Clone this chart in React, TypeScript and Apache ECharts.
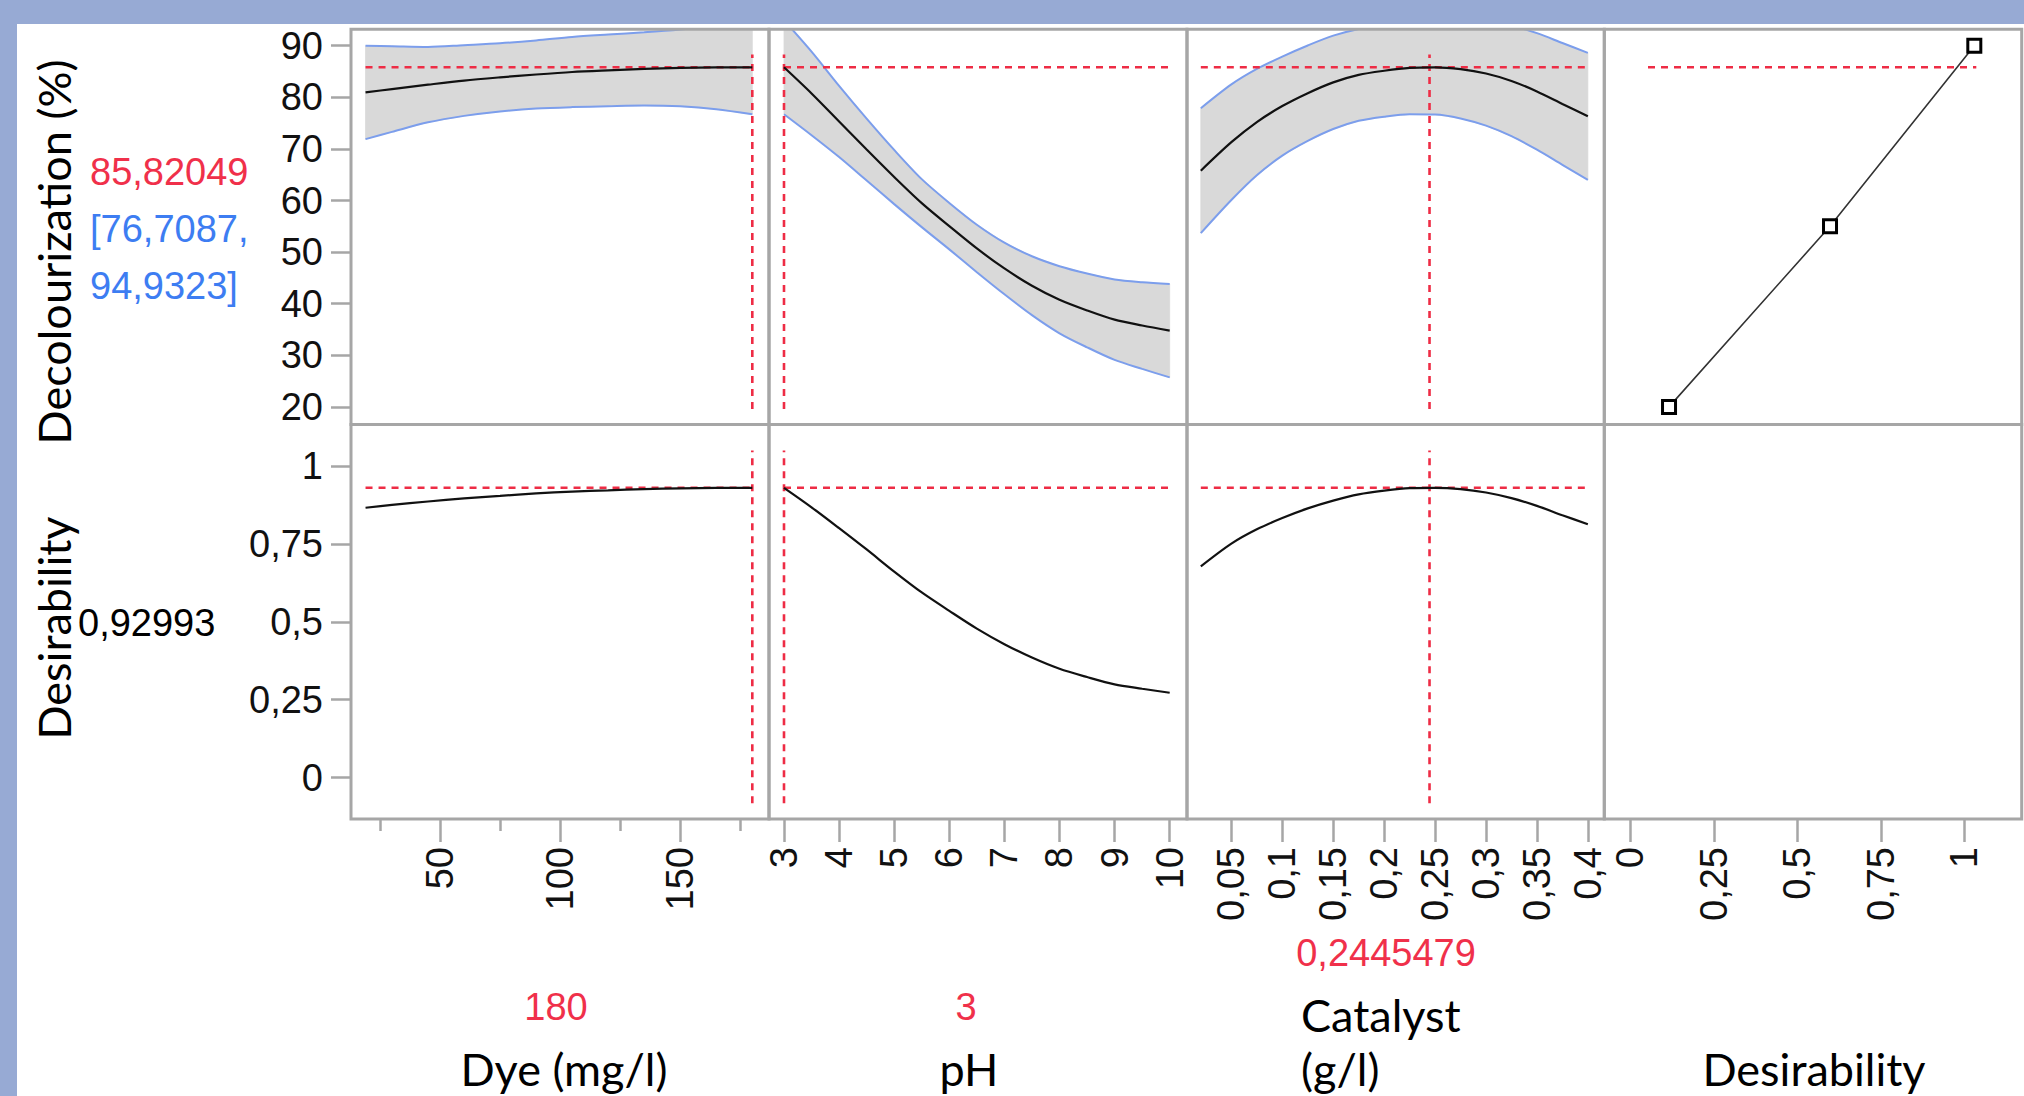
import React, { useEffect, useRef } from "react";
import * as echarts from "echarts";

// ---------------- data ----------------
const dyeValues = [19, 30, 45, 60, 75, 90, 105, 120, 135, 150, 165, 180];
const dyePred = [80.95, 81.6, 82.45, 83.25, 83.87, 84.42, 84.9, 85.22, 85.5, 85.7, 85.8, 85.82];
const dyeUpper = [90.01, 89.9, 89.75, 90.1, 90.47, 91.02, 91.7, 92.17, 92.6, 93.15, 93.9, 94.93];
const dyeLower = [71.89, 73.3, 75.15, 76.4, 77.27, 77.82, 78.1, 78.27, 78.4, 78.25, 77.7, 76.71];
const dyeDesirability = [0.866, 0.875, 0.886, 0.896, 0.904, 0.912, 0.918, 0.922, 0.926, 0.928, 0.9297, 0.93];

const phValues = [3, 3.5, 4, 4.5, 5, 5.5, 6, 6.5, 7, 7.5, 8, 8.5, 9, 9.5, 10];
const phPred = [85.82, 80.75, 75.32, 69.87, 64.55, 59.49, 55.03, 50.71, 46.83, 43.49, 40.77, 38.7, 36.91, 35.77, 34.77];
const phUpper = [94.93, 88.85, 82.22, 75.87, 69.8, 64.14, 59.53, 55.31, 51.83, 49.19, 47.27, 45.85, 44.71, 44.17, 43.82];
const phLower = [76.71, 72.65, 68.42, 63.87, 59.3, 54.84, 50.53, 46.11, 41.83, 37.79, 34.27, 31.55, 29.11, 27.37, 25.72];
const phDesirability = [0.93, 0.8675, 0.8006, 0.732, 0.661, 0.594, 0.535, 0.478, 0.428, 0.385, 0.349, 0.3225, 0.299, 0.285, 0.272];

const catalystValues = [0.02, 0.05, 0.075, 0.1, 0.125, 0.15, 0.175, 0.2, 0.225, 0.25, 0.275, 0.3, 0.325, 0.35, 0.375, 0.4];
const catalystPred = [65.78, 71.3, 75.2, 78.3, 80.8, 82.9, 84.35, 85.15, 85.71, 85.81, 85.46, 84.61, 83.17, 81.14, 78.72, 76.32];
const catalystUpper = [77.88, 82.5, 85.5, 87.9, 90.05, 91.95, 93.25, 94.05, 94.71, 94.96, 95.01, 94.71, 93.87, 92.44, 90.52, 88.62];
const catalystLower = [53.68, 60.1, 64.9, 68.7, 71.55, 73.85, 75.45, 76.25, 76.71, 76.66, 75.91, 74.51, 72.47, 69.84, 66.92, 64.02];
const catalystDesirability = [0.678, 0.751, 0.797, 0.833, 0.864, 0.889, 0.909, 0.921, 0.929, 0.93, 0.926, 0.915, 0.897, 0.872, 0.842, 0.813];

// desirability function (response vs desirability)
const desirFnD = [0.116, 0.598, 1.03];
const desirFnY = [20, 55, 90];

// current settings
const currentDye = 180;
const currentPH = 3;
const currentCatalyst = 0.2445479;
const predictedValue = 85.82049;
const currentDesirability = 0.92993;

// reference line spans
const verticalSpanTop = [19.6, 88.3];
const verticalSpanBottom = [-0.083, 1.05];
const desirRefSpan = [0.053, 1.036];

// tick values
const decoTicks = [20, 30, 40, 50, 60, 70, 80, 90];
const desirTicks = [0, 0.25, 0.5, 0.75, 1];
const dyeMajorTicks = [50, 100, 150];
const dyeMinorTicks = [25, 75, 125, 175];
const phTicks = [3, 4, 5, 6, 7, 8, 9, 10];
const catalystTicks = [0.05, 0.1, 0.15, 0.2, 0.25, 0.3, 0.35, 0.4];

// texts
const responseTitle = "Decolourization (%)";
const desirabilityTitle = "Desirability";
const factorTitles = ["Dye (mg/l)", "pH", "Catalyst", "(g/l)", "Desirability"];
const currentLabels = ["180", "3", "0,2445479"];
const predictedLabel = "85,82049";
const ciLabelLines = ["[76,7087,", "94,9323]"];
const desirabilityLabel = "0,92993";

// ---------------- layout / style ----------------
const FRAME = "#A6A6A6";
const RED = "#EE2C45";
const BLUE_LINE = "#7C9EEC";
const BAND = "#D9D9D9";
const FONT_NUM = "Liberation Sans";
const FONT_TITLE = "Lato";

const COL_LEFT = [351, 769, 1187, 1604.3];
const COL_WIDTH = [418, 418, 417.3, 417.4];
const ROW_TOP = [29.3, 424.5];
const ROW_HEIGHT = [395.2, 394.5];
const X_RANGES = [
  [12.95, 186.95],
  [2.7278, 10.314],
  [0.00643, 0.41615],
  [-0.0778, 1.1719],
];
const Y_RANGES = [
  [16.59, 93.18],
  [-0.1332, 1.1332],
];

const fmt = (v: number) => String(+Number(v).toFixed(4)).replace(".", ",");
const pairs = (xs: number[], ys: number[]) => xs.map((x, i) => [x, ys[i]]);

function buildOption() {
  const grids: any[] = [];
  const xAxes: any[] = [];
  const yAxes: any[] = [];
  const series: any[] = [];
  const tickLine = { color: FRAME, width: 2.5 };
  const numLabel = { fontFamily: FONT_NUM, fontSize: 38, color: "#111" };
  const xTicks = [dyeMajorTicks, phTicks, catalystTicks, desirTicks];
  const yTicks = [decoTicks, desirTicks];

  for (let r = 0; r < 2; r++) {
    for (let c = 0; c < 4; c++) {
      const g = r * 4 + c;
      grids.push({
        left: COL_LEFT[c],
        top: ROW_TOP[r],
        width: COL_WIDTH[c],
        height: ROW_HEIGHT[r],
        show: true,
        borderColor: FRAME,
        borderWidth: 3,
        backgroundColor: "transparent",
        containLabel: false,
        outerBoundsMode: "none",
        z: 5,
      });
      const isBottom = r === 1;
      xAxes.push({
        type: "value",
        gridIndex: g,
        position: "bottom",
        min: X_RANGES[c][0],
        max: X_RANGES[c][1],
        axisLine: { show: false, onZero: false },
        splitLine: { show: false },
        axisTick: isBottom
          ? { show: true, length: 23, lineStyle: tickLine, customValues: xTicks[c] }
          : { show: false },
        axisLabel: isBottom
          ? { show: true, rotate: 90, margin: 28, customValues: xTicks[c], formatter: fmt, ...numLabel }
          : { show: false },
      });
      const isLeft = c === 0;
      yAxes.push({
        type: "value",
        gridIndex: g,
        position: "left",
        min: Y_RANGES[r][0],
        max: Y_RANGES[r][1],
        axisLine: { show: false, onZero: false },
        splitLine: { show: false },
        axisTick: isLeft
          ? { show: true, length: 20, lineStyle: tickLine, customValues: yTicks[r] }
          : { show: false },
        axisLabel: isLeft
          ? { show: true, margin: 28, customValues: yTicks[r], formatter: fmt, ...numLabel }
          : { show: false },
      });
    }
  }
  // minor ticks for Dye axis
  xAxes.push({
    type: "value",
    gridIndex: 4,
    position: "bottom",
    min: X_RANGES[0][0],
    max: X_RANGES[0][1],
    axisLine: { show: false, onZero: false },
    splitLine: { show: false },
    axisLabel: { show: false },
    axisTick: { show: true, length: 12, lineStyle: tickLine, customValues: dyeMinorTicks },
  });

  const base = { type: "line", symbol: "none", silent: true, emphasis: { disabled: true }, clip: true };
  const redLine = (g: number, data: number[][], z = 3) => ({
    ...base,
    xAxisIndex: g,
    yAxisIndex: g,
    data,
    z,
    lineStyle: { color: RED, width: 2.6, type: [7, 6] },
  });
  const SMOOTH = 0.3;

  const panels = [
    { xs: dyeValues, pred: dyePred, up: dyeUpper, lo: dyeLower, cur: currentDye, des: dyeDesirability },
    { xs: phValues, pred: phPred, up: phUpper, lo: phLower, cur: currentPH, des: phDesirability },
    { xs: catalystValues, pred: catalystPred, up: catalystUpper, lo: catalystLower, cur: currentCatalyst, des: catalystDesirability },
  ];

  panels.forEach((p, c) => {
    const g = c;
    const x0 = p.xs[0];
    const x1 = p.xs[p.xs.length - 1];
    // grey confidence band: one polygon, upper limits then lower limits reversed
    series.push({
      type: "custom",
      xAxisIndex: g,
      yAxisIndex: g,
      silent: true,
      clip: true,
      z: 1,
      data: pairs(p.xs, p.up),
      renderItem: (params: any, api: any) => {
        if (params.dataIndex !== 0) return null;
        const pts: number[][] = [];
        for (let i = 0; i < p.xs.length; i++) pts.push(api.coord([p.xs[i], p.up[i]]));
        for (let i = p.xs.length - 1; i >= 0; i--) pts.push(api.coord([p.xs[i], p.lo[i]]));
        return {
          type: "polygon",
          shape: { points: pts },
          style: { fill: BAND, stroke: BAND, lineWidth: 0.8 },
        };
      },
    });
    series.push({
      ...base, xAxisIndex: g, yAxisIndex: g, data: pairs(p.xs, p.up), smooth: SMOOTH,
      lineStyle: { color: BLUE_LINE, width: 2 }, z: 2,
    });
    series.push({
      ...base, xAxisIndex: g, yAxisIndex: g, data: pairs(p.xs, p.lo), smooth: SMOOTH,
      lineStyle: { color: BLUE_LINE, width: 2 }, z: 2,
    });
    series.push(redLine(g, [[x0, predictedValue], [x1, predictedValue]]));
    series.push(redLine(g, [[p.cur, verticalSpanTop[0]], [p.cur, verticalSpanTop[1]]]));
    series.push({
      ...base, xAxisIndex: g, yAxisIndex: g, data: pairs(p.xs, p.pred), smooth: SMOOTH,
      lineStyle: { color: "#111", width: 2.2 }, z: 4,
    });

    const gb = 4 + c;
    series.push(redLine(gb, [[x0, currentDesirability], [x1, currentDesirability]]));
    series.push(redLine(gb, [[p.cur, verticalSpanBottom[0]], [p.cur, verticalSpanBottom[1]]]));
    series.push({
      ...base, xAxisIndex: gb, yAxisIndex: gb, data: pairs(p.xs, p.des), smooth: SMOOTH,
      lineStyle: { color: "#111", width: 2.2 }, z: 4,
    });
  });

  // desirability function panel
  series.push(redLine(3, [[desirRefSpan[0], predictedValue], [desirRefSpan[1], predictedValue]]));
  series.push({
    type: "line",
    silent: true,
    emphasis: { disabled: true },
    xAxisIndex: 3,
    yAxisIndex: 3,
    data: pairs(desirFnD, desirFnY),
    symbol: "rect",
    symbolSize: 13,
    showSymbol: true,
    itemStyle: { color: "#fff", borderColor: "#000", borderWidth: 3 },
    lineStyle: { color: "#333", width: 1.6 },
    z: 4,
  });

  const txt = (text: string, x: number, y: number, font: string, fill: string, align = "center", rotation = 0) => ({
    type: "text",
    x,
    y,
    rotation,
    silent: true,
    style: {
      text,
      font,
      fill,
      align,
      verticalAlign: "middle",
      textAlign: align,
      textVerticalAlign: "middle",
    },
  });
  const titleFont = `45px ${FONT_TITLE}`;
  const numFont = `38px "${FONT_NUM}"`;
  const RED_TXT = "#F0304A";
  const BLUE_TXT = "#3D7DF2";

  const graphic = [
    txt(responseTitle, 54, 252, titleFont, "#000", "center", Math.PI / 2),
    txt(desirabilityTitle, 54, 628, titleFont, "#000", "center", Math.PI / 2),
    txt(predictedLabel, 90, 172, numFont, RED_TXT, "left"),
    txt(ciLabelLines[0], 90, 229, numFont, BLUE_TXT, "left"),
    txt(ciLabelLines[1], 90, 286, numFont, BLUE_TXT, "left"),
    txt(desirabilityLabel, 78, 623, numFont, "#000", "left"),
    txt(currentLabels[0], 556, 1007, numFont, RED_TXT),
    txt(currentLabels[1], 966, 1007, numFont, RED_TXT),
    txt(currentLabels[2], 1386, 953, numFont, RED_TXT),
    txt(factorTitles[0], 564, 1069, titleFont, "#000"),
    txt(factorTitles[1], 969, 1069, titleFont, "#000"),
    txt(factorTitles[2], 1301, 1015, titleFont, "#000", "left"),
    txt(factorTitles[3], 1301, 1069, titleFont, "#000", "left"),
    txt(factorTitles[4], 1814, 1069, titleFont, "#000"),
  ];

  return {
    animation: false,
    backgroundColor: "transparent",
    grid: grids,
    xAxis: xAxes,
    yAxis: yAxes,
    series,
    graphic,
  };
}

export default function App() {
  const ref = useRef<HTMLDivElement>(null);
  useEffect(() => {
    if (!ref.current) return;
    const chart = echarts.init(ref.current, null, { renderer: "svg", width: 2024, height: 1096 });
    chart.setOption(buildOption() as any);
    return () => chart.dispose();
  }, []);
  return (
    <div style={{ position: "fixed", left: 0, top: 0, width: 2024, height: 1096, background: "#97AAD4" }}>
      <div style={{ position: "absolute", left: 17, top: 24, right: 0, bottom: 0, background: "#ffffff" }} />
      <div ref={ref} style={{ position: "absolute", left: 0, top: 0, width: 2024, height: 1096 }} />
    </div>
  );
}
